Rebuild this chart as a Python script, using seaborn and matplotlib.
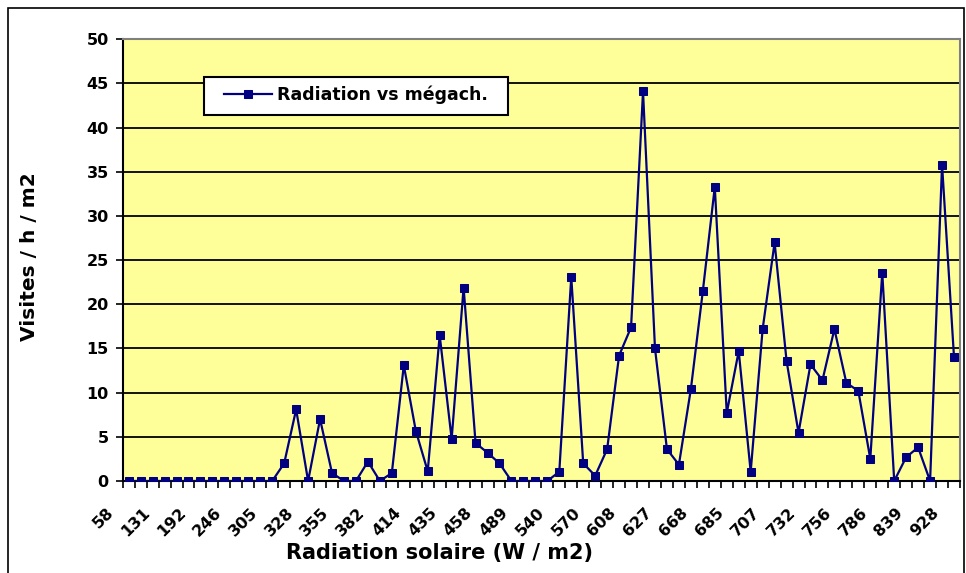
import numpy as np
import pandas as pd
import matplotlib
matplotlib.use("Agg")
import matplotlib.pyplot as plt
from matplotlib.patches import Rectangle
import matplotlib.transforms as mtransforms
import seaborn as sns

# Visites par heure et par m2 pour chaque relevé de radiation (ordre croissant)
visites = [
    0, 0, 0, 0, 0, 0, 0, 0, 0, 0, 0, 0, 0,
    2.0, 8.1, 0, 7.0, 0.9, 0, 0, 2.2, 0, 0.9, 13.1, 5.7,
    1.1, 16.5, 4.75, 21.9, 4.3, 3.2, 2.0, 0, 0, 0, 0, 1.05,
    23.1, 2.0, 0.6, 3.6, 14.2, 17.4, 44.1, 15.0, 3.6, 1.85, 10.4,
    21.5, 33.3, 7.7, 14.7, 1.05, 17.2, 27.0, 13.6, 5.45, 13.2, 11.4,
    17.2, 11.1, 10.2, 2.5, 23.6, 0, 2.7, 3.8, 0, 35.8, 14.0,
]

# Étiquettes affichées sur l'axe des abscisses (une catégorie sur trois)
radiation_labels = [
    "58", "131", "192", "246", "305", "328", "355", "382", "414", "435",
    "458", "489", "540", "570", "608", "627", "668", "685", "707", "732",
    "756", "786", "839", "928",
]
label_step = 3

y_ticks = [0, 5, 10, 15, 20, 25, 30, 35, 40, 45, 50]

serie_nom = "Radiation vs mégach."
x_titre = "Radiation solaire (W / m2)"
y_titre = "Visites / h / m2"

df = pd.DataFrame({"rang": np.arange(len(visites)), "visites": visites})

plt.rcParams["font.family"] = ["DejaVu Sans"]
plt.rcParams["font.weight"] = "bold"

W, H, DPI = 966, 573, 100
fig = plt.figure(figsize=(W / DPI, H / DPI), dpi=DPI)
fig.patch.set_facecolor("white")

# zone de tracé, en pixels
left, right, top, bottom = 122.7, 960, 39.3, 481
ax = fig.add_axes([left / W, 1 - bottom / H, (right - left) / W, (bottom - top) / H])
ax.set_facecolor("#FFFF99")


def ax_x(px):
    return (px - left) / (right - left)


def ax_y(py):
    return (bottom - py) / (bottom - top)


# grille horizontale noire
for yv in y_ticks[1:-1]:
    ax.axhline(yv, color="black", lw=1.3, zorder=1)

sns.lineplot(
    data=df, x="rang", y="visites", ax=ax,
    color="#000080", lw=1.6, marker="s", markersize=5.5,
    markeredgecolor="#000080", markerfacecolor="#000080",
    label=serie_nom, zorder=3,
)

n = len(visites)
ax.set_xlim(-0.5, n - 0.5)
ax.set_ylim(0, 50)

ax.set_yticks(y_ticks)
ax.set_yticklabels([str(v) for v in y_ticks], fontsize=11.5, fontweight="bold")
ax.tick_params(axis="y", length=5, width=1.2, pad=5, color="black")

ax.set_xticks(np.arange(-0.5, n, 1), minor=True)
ax.tick_params(axis="x", which="major", length=0, pad=17)
ax.tick_params(axis="x", which="minor", length=5, width=1.2, color="black")
ax.set_xticks(np.arange(0, n, label_step))
ax.set_xticklabels(radiation_labels, rotation=45, ha="right",
                   fontsize=11.5, fontweight="bold")
# étiquettes inclinées décalées vers la gauche de leur catégorie
shift = mtransforms.ScaledTranslation(-12 / DPI, 0, fig.dpi_scale_trans)
for lab in ax.get_xticklabels():
    lab.set_transform(lab.get_transform() + shift)

for side in ("left", "bottom"):
    ax.spines[side].set_color("black")
    ax.spines[side].set_linewidth(1.5)
for side in ("top", "right"):
    ax.spines[side].set_color("#808080")
    ax.spines[side].set_linewidth(1.5)

ax.set_xlabel(x_titre, fontsize=15, fontweight="bold")
ax.xaxis.set_label_coords(ax_x(440), ax_y(553))
ax.xaxis.label.set_va("center")
ax.set_ylabel(y_titre, fontsize=14.5, fontweight="bold")
ax.yaxis.set_label_coords(ax_x(29), ax_y(257))
ax.yaxis.label.set_va("center")

# cadre de la légende
ax.add_patch(Rectangle((ax_x(204), ax_y(115)), ax_x(508) - ax_x(204), ax_y(77) - ax_y(115),
                       transform=ax.transAxes, facecolor="white", edgecolor="black",
                       lw=1.5, zorder=4))
leg = ax.legend(
    loc="center left", bbox_to_anchor=(ax_x(224), ax_y(95)),
    frameon=False, prop={"size": 12.5, "weight": "bold"},
    handlelength=2.76, handletextpad=0.3, borderpad=0, borderaxespad=0,
)
leg.set_zorder(5)

# cadre extérieur du graphique
fig.patches.append(Rectangle((8 / W, 1 - 590 / H), (964 - 8) / W, (590 - 8) / H,
                             transform=fig.transFigure, fill=False,
                             edgecolor="black", lw=1.2))

fig.savefig("out.png", dpi=DPI, facecolor="white")
